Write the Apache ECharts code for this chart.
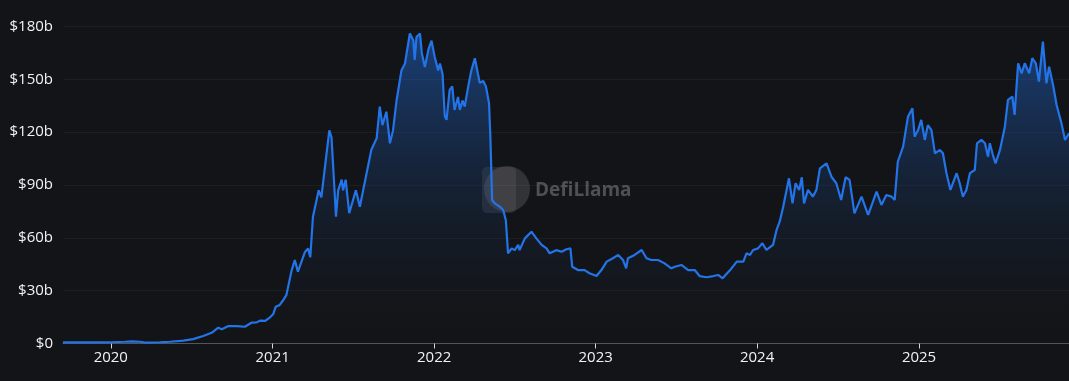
<!DOCTYPE html>
<html>
<head>
<meta charset="utf-8">
<script src="https://cdn.jsdelivr.net/npm/echarts@6/dist/echarts.min.js"></script>
<style>
html,body{margin:0;padding:0;background:#131417;}
#chart{width:1069px;height:381px;}
</style>
</head>
<body>
<div id="chart"></div>
<script>
const dates = [
"2019-09-15","2019-10-24","2019-11-27","2020-01-01","2020-02-02","2020-02-18","2020-03-07","2020-03-18","2020-04-21","2020-05-14",
"2020-06-13","2020-07-05","2020-07-28","2020-08-16","2020-08-31","2020-09-08","2020-09-23","2020-10-12","2020-10-30","2020-11-14",
"2020-11-26","2020-12-03","2020-12-15","2020-12-26","2021-01-02","2021-01-08","2021-01-17","2021-01-25","2021-02-01","2021-02-05",
"2021-02-13","2021-02-20","2021-02-27","2021-03-15","2021-03-22","2021-03-27","2021-04-02","2021-04-15","2021-04-21","2021-04-29",
"2021-05-09","2021-05-14","2021-05-22","2021-05-24","2021-05-29","2021-06-06","2021-06-09","2021-06-15","2021-06-23","2021-07-08",
"2021-07-17","2021-08-12","2021-08-24","2021-08-31","2021-09-06","2021-09-15","2021-09-23","2021-09-30","2021-10-08","2021-10-19",
"2021-10-27","2021-11-07","2021-11-15","2021-11-18","2021-11-22","2021-11-30","2021-12-04","2021-12-11","2021-12-19","2021-12-26",
"2022-01-02","2022-01-10","2022-01-14","2022-01-20","2022-01-25","2022-01-29","2022-02-05","2022-02-11","2022-02-16","2022-02-24",
"2022-02-28","2022-03-06","2022-03-11","2022-03-19","2022-03-26","2022-04-03","2022-04-10","2022-04-14","2022-04-22","2022-04-28",
"2022-05-05","2022-05-08","2022-05-12","2022-05-18","2022-05-29","2022-06-06","2022-06-12","2022-06-17","2022-06-25","2022-07-02",
"2022-07-10","2022-07-13","2022-07-25","2022-08-09","2022-08-20","2022-09-01","2022-09-12","2022-09-19","2022-10-04","2022-10-16",
"2022-10-27","2022-11-05","2022-11-09","2022-11-22","2022-12-07","2022-12-18","2023-01-03","2023-01-14","2023-01-26","2023-02-09",
"2023-02-21","2023-03-04","2023-03-11","2023-03-15","2023-03-30","2023-04-15","2023-04-26","2023-05-07","2023-05-22","2023-06-06",
"2023-06-21","2023-06-29","2023-07-14","2023-07-29","2023-08-13","2023-08-24","2023-09-09","2023-09-24","2023-10-05","2023-10-15",
"2023-11-01","2023-11-16","2023-12-01","2023-12-08","2023-12-16","2023-12-23","2024-01-03","2024-01-13","2024-01-22","2024-02-06",
"2024-02-14","2024-02-21","2024-02-29","2024-03-13","2024-03-21","2024-03-28","2024-04-05","2024-04-11","2024-04-16","2024-04-25",
"2024-05-06","2024-05-14","2024-05-22","2024-06-06","2024-06-17","2024-06-28","2024-07-09","2024-07-19","2024-07-28","2024-08-08",
"2024-08-24","2024-09-08","2024-09-27","2024-10-08","2024-10-19","2024-10-31","2024-11-07","2024-11-14","2024-11-26","2024-12-07",
"2024-12-17","2024-12-22","2024-12-30","2025-01-06","2025-01-14","2025-01-21","2025-01-29","2025-02-06","2025-02-17","2025-02-24",
"2025-03-04","2025-03-13","2025-03-27","2025-04-03","2025-04-10","2025-04-18","2025-04-26","2025-05-07","2025-05-12","2025-05-22",
"2025-05-30","2025-06-06","2025-06-10","2025-06-17","2025-06-23","2025-07-03","2025-07-14","2025-07-21","2025-07-31","2025-08-05",
"2025-08-13","2025-08-21","2025-08-28","2025-09-07","2025-09-14","2025-09-22","2025-09-29","2025-10-08","2025-10-16","2025-10-22",
"2025-10-31","2025-11-08","2025-11-19","2025-11-27","2025-12-06"
];
const tvlBillions = [
0.6,0.6,0.65,0.7,1.0,1.2,1.0,0.55,0.7,1.0,
1.6,2.5,4.3,6.1,9.0,8.1,9.9,9.9,9.5,11.8,
12.0,13.0,12.8,14.9,16.6,20.9,21.9,24.7,27.5,32.3,
41.7,47.4,40.8,52,54,49,72,87,83,100,
121,117,81.5,72,87,93,87,93,74,87,
77.7,110,116.5,134.5,124,131.6,113.7,121,138,155,
159,176,172,161,174,176,165,157,167,172,
163,155,159,153,129,127,144,146,132.6,140,
132.6,138,134.5,146,155,162,153,148,149,146,
136.4,117.5,81.5,79.6,77.7,75.8,70,51.2,54,53,
56,53,59.7,63.5,59.7,56,54,51.2,53,52.1,
53.5,54,43.6,41.7,41.7,39.9,38.3,41.7,46.5,48.4,
50.3,47.4,42.7,48.4,50.3,53.1,48.4,47.4,47.4,45.5,
42.7,43.6,44.6,41.7,41.7,38.3,37.6,38.3,38.9,37,
41.7,46.5,46.5,51.2,50.3,53.1,54,56.9,53.1,56,
64.5,69.2,77.7,93.8,79.6,91,87.2,94.4,79.6,87.2,
83.4,87.2,99.5,102.3,94.7,91,81.5,94.4,92.9,73.9,
83.4,73,86.2,78.7,84.3,83.4,81.5,103.2,111.8,128.8,
133.6,117.4,121.2,127,115.6,124,121.2,108,109.9,108,
96.7,87.2,96.7,91,83.4,87.2,96.7,98.5,113.7,115.6,
113.7,106.1,113.7,107,102.3,109.9,123.1,138.3,140.2,129.8,
159.1,153.4,159.1,153.4,162,159.1,148.7,171.4,147.8,157.2,
146.8,135.4,125,115.6,119.4
];
const yTicks = [0,30,60,90,120,150,180];

const seriesData = dates.map((d,i)=>[d, tvlBillions[i]]);
const chart = echarts.init(document.getElementById('chart'), null, {renderer:'canvas'});
const labelFont = '"Open Sans", "Noto Sans", sans-serif';
chart.setOption({
  backgroundColor:'#131417',
  animation:false,
  grid:{left:63,right:0,top:26.5,bottom:37.5,containLabel:false},
  xAxis:{
    type:'time',
    min:'dataMin', max:'dataMax',
    minInterval:365*24*3600*1000,
    maxInterval:366*24*3600*1000,
    boundaryGap:false,
    axisLine:{show:true,lineStyle:{color:'#55575c',width:1}},
    axisTick:{show:true,length:5,lineStyle:{color:'#d8d8d8'}},
    axisLabel:{
      color:'#f2f2f2',fontSize:15,fontFamily:labelFont,margin:7,
      showMinLabel:false,showMaxLabel:false,
      formatter:function(v){const d=new Date(v);return (d.getMonth()===0&&d.getDate()===1)?String(d.getFullYear()):'';}
    },
    splitLine:{show:false}
  },
  yAxis:{
    type:'value',min:yTicks[0],max:yTicks[yTicks.length-1],interval:30,
    axisLine:{show:false},axisTick:{show:false},
    axisLabel:{color:'#f2f2f2',fontSize:15,fontFamily:labelFont,margin:10,
      formatter:function(v){return v===0?'$0':'$'+v+'b';}},
    splitLine:{show:true,lineStyle:{color:'rgba(255,255,255,0.045)',width:1}}
  },
  graphic:[
    {type:'group',left:482,top:166,silent:true,z:0,children:[
      {type:'rect',shape:{x:0,y:2,width:34,height:46,r:5},style:{fill:'rgba(120,120,126,0.22)'}},
      {type:'circle',shape:{cx:25,cy:24,r:23},style:{fill:'rgba(110,110,114,0.35)'}},
      {type:'text',style:{x:53,y:26,text:'DefiLlama',fill:'rgba(120,120,122,0.6)',font:'bold 19px "Open Sans", sans-serif',verticalAlign:'middle'}}
    ]}
  ],
  series:[{
    type:'line',
    data:seriesData,
    showSymbol:false,
    smooth:false,
    lineStyle:{color:'#2374E8',width:2.2},
    itemStyle:{color:'#2374E8'},
    areaStyle:{color:new echarts.graphic.LinearGradient(0,0,0,1,[
      {offset:0,color:'rgba(33,114,229,0.68)'},
      {offset:1,color:'rgba(19,20,23,0.1)'}
    ])},
    z:2
  }]
});
</script>
</body>
</html>
